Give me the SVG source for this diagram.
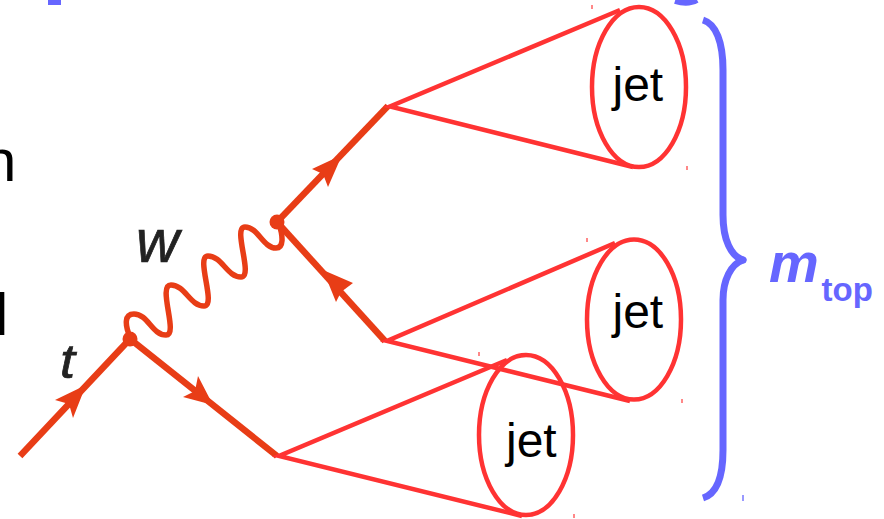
<svg xmlns="http://www.w3.org/2000/svg" width="884" height="519" viewBox="0 0 884 519">
<defs>
<style>
.cone{fill:none;stroke:#ff3333;stroke-width:4.500}
.jet{font:48px "Liberation Sans",Arial,sans-serif;fill:#000}
.q{fill:none;stroke:#e83c17;stroke-width:6.500}
.w{fill:none;stroke:#e83c17;stroke-width:5.500}
.ah{fill:#e83c17}
.lab{font-family:"Liberation Sans",Arial,sans-serif;font-style:italic;fill:#222;stroke:#222;stroke-width:.7}
.mark{fill:#ff8888}
.frag{font:60px "Liberation Sans",Arial,sans-serif;fill:#000}
</style>
<filter id="soft" x="-20%" y="-20%" width="140%" height="140%"><feGaussianBlur stdDeviation="0.7"/></filter>
</defs>
<rect width="884" height="519" fill="#fff"/>
<text class="frag" x="-17" y="181">n</text>
<text class="frag" x="-5" y="335">l</text>
<rect x="48" y="0" width="13" height="5" fill="#6666ff"/>
<path d="M675 1 Q688 5 697 0" fill="none" stroke="#6666ff" stroke-width="6"/>
<g id="connectors" filter="url(#soft)">
<path class="q" d="M20 456L130 339L277 456"/>
<path class="q" d="M277 222L388 106"/>
<path class="q" d="M277 222L385 341"/>
<path class="w" d="M130 337C125 325 124 314 134 314C148 314 152 335 166 335C179 335 157 285 171 285C185 285 190 306 204 306C217 306 195 256 208 256C222 256 227 277 241 277C254 277 232 227 245 227C258 227 263 248 276 248C284 248 283 236 279 224"/>
<path class="ah" d="M86 385L55 400L69 404L73 418Z"/>
<path class="ah" d="M213 405L183 397L195 391L198 376Z"/>
<path class="ah" d="M342 155L312 169L323 174L328 187Z"/>
<path class="ah" d="M323 270L353 283L341 292L336 302Z"/>
<circle class="ah" cx="130" cy="339" r="7.500"/>
<circle class="ah" cx="277" cy="222" r="7.500"/>
</g>
<g id="jet1">
<path class="cone" d="M620 10L390 106.500L633 167"/>
<ellipse class="cone" cx="639" cy="87" rx="47" ry="80"/>
<text class="jet" x="612.500" y="101">jet</text>
</g>
<g id="jet2">
<path class="cone" d="M615 243L387 341L630 401"/>
<ellipse class="cone" cx="634" cy="319.500" rx="47" ry="80"/>
<text class="jet" x="612.500" y="328">jet</text>
</g>
<g id="jet3">
<path class="cone" d="M507 360L279 456L522 516"/>
<ellipse class="cone" cx="526" cy="435" rx="47" ry="80"/>
<text class="jet" x="506" y="457">jet</text>
</g>
<g id="labels">
<text class="lab" x="136" y="262" font-size="62" textLength="43" lengthAdjust="spacingAndGlyphs" filter="url(#soft)">w</text>
<text class="lab" x="60" y="378" font-size="48" textLength="15" lengthAdjust="spacingAndGlyphs" filter="url(#soft)">t</text>
</g>
<g id="mtop">
<path d="M703 20C716 24 723 42 723 70L723 215C723 240 731 256 743 260C731 264 723 280 723 300L723 450C723 480 716 494 703 498" fill="none" stroke="#6666ff" stroke-width="7" stroke-linejoin="round"/>
<circle cx="743" cy="260" r="3.500" fill="#6666ff"/>
<text x="769" y="282" style="font:italic bold 56px 'Liberation Sans',Arial,sans-serif" fill="#6666ff">m</text>
<text x="821.500" y="301" style="font:bold 33px 'Liberation Sans',Arial,sans-serif" fill="#6666ff">top</text>
</g>
<g id="marks">
<rect class="mark" x="591" y="5" width="2" height="4"/>
<rect class="mark" x="686" y="166" width="2" height="4"/>
<rect class="mark" x="586" y="238" width="2" height="4"/>
<rect class="mark" x="681" y="399" width="2" height="4"/>
<rect class="mark" x="478" y="352" width="2" height="4"/>
<rect class="mark" x="573" y="514" width="2" height="4"/>
<rect x="742" y="495" width="2" height="6" fill="#9999ff"/>
</g>
</svg>
